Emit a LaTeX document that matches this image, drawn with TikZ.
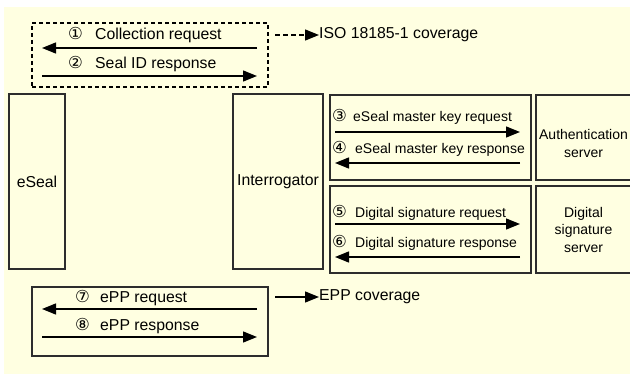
\documentclass[tikz,border=0pt]{standalone}
\usepackage{fontspec}
\setmainfont{Liberation Sans}
\newfontfamily\circfont{DejaVu Sans}
\usetikzlibrary{arrows.meta,positioning}
\definecolor{paper}{RGB}{255,255,225}
\definecolor{edge}{RGB}{45,45,45}
\newcommand{\bigtxt}{\fontsize{15.8}{18}\selectfont}
\newcommand{\smalltxt}{\fontsize{14}{17.5}\selectfont}
\newcommand{\cnum}[2]{\makebox[#2][l]{\circfont\fontsize{16.5}{16}\selectfont #1}}
\tikzset{
  box/.style={
    rectangle,draw=edge,line width=1.3pt,align=center,inner sep=0pt,
    font=\bigtxt
  },
  serverbox/.style={box,font=\smalltxt},
  covbox/.style={
    rectangle,draw=black,line width=1.5pt,dash pattern=on 4pt off 3pt
  },
  msg/.style={-{Triangle[length=14pt,width=11pt]},line width=1.3pt,draw=black},
  covarrow/.style={msg,dash pattern=on 5pt off 3pt},
  msglabel/.style={anchor=base west,inner sep=0pt,font=\bigtxt},
  rlabel/.style={msglabel,font=\smalltxt},
  covtext/.style={anchor=west,inner sep=0pt,font=\bigtxt}
}
\begin{document}
\begin{tikzpicture}[x=1pt,y=-1pt]
  \useasboundingbox (0,0) rectangle (630,374);
  \fill[paper] (4,7) rectangle (632,376);

  % entities
  \node[box,minimum width=56pt,minimum height=175pt] (eseal)
    at (37,181.5) {eSeal};
  \node[box,minimum width=90pt,minimum height=175pt] (interrogator)
    at (278,181.5) {Interrogator};
  \node[box,minimum width=201pt,minimum height=85pt] (authlink)
    at (430.5,137.5) {};
  \node[box,minimum width=201pt,minimum height=87pt] (siglink)
    at (430.5,229.5) {};
  \node[serverbox,minimum width=95pt,minimum height=85pt] (authsrv)
    at (583.5,137.5) {};
  \node[font=\smalltxt,align=center,inner sep=0pt] (authname)
    at ([yshift=-6pt]authsrv.center) {Authentication\\server};
  \node[serverbox,minimum width=95pt,minimum height=87pt] (sigsrv)
    at (583.5,229.5) {Digital\\signature\\server};

  % coverage boxes
  \node[covbox,minimum width=236pt,minimum height=64pt] (isobox)
    at (150,55) {};
  \node[box,minimum width=236pt,minimum height=69pt] (eppbox)
    at (150,321.5) {};

  % ISO 18185-1 messages
  \coordinate (m1from) at (257,48);
  \coordinate (m1to) at (42,48);
  \coordinate (m2from) at (42,76);
  \coordinate (m2to) at (257,76);
  \draw[msg] (m1from) -- (m1to);
  \draw[msg] (m2from) -- (m2to);
  \node[msglabel] (m1lbl) at (68,40) {\cnum{①}{27pt}Collection request};
  \node[msglabel] (m2lbl) at (68,69) {\cnum{②}{27pt}Seal ID response};

  % back-end messages
  \coordinate (m3from) at (335,132);
  \coordinate (m3to) at (520,132);
  \coordinate (m4from) at (520,163);
  \coordinate (m4to) at (335,163);
  \coordinate (m5from) at (335,224);
  \coordinate (m5to) at (520,224);
  \coordinate (m6from) at (520,257);
  \coordinate (m6to) at (335,257);
  \draw[msg] (m3from) -- (m3to);
  \draw[msg] (m4from) -- (m4to);
  \draw[msg] (m5from) -- (m5to);
  \draw[msg] (m6from) -- (m6to);
  \node[rlabel] (m3lbl) at (332,122) {\cnum{③}{21pt}eSeal master key request};
  \node[rlabel] (m4lbl) at (332,154) {\cnum{④}{23pt}eSeal master key response};
  \node[rlabel] (m5lbl) at (332,218) {\cnum{⑤}{23pt}Digital signature request};
  \node[rlabel] (m6lbl) at (332,248) {\cnum{⑥}{23pt}Digital signature response};

  % EPP messages
  \coordinate (m7from) at (257,309);
  \coordinate (m7to) at (42,309);
  \coordinate (m8from) at (42,337);
  \coordinate (m8to) at (257,337);
  \draw[msg] (m7from) -- (m7to);
  \draw[msg] (m8from) -- (m8to);
  \node[msglabel] (m7lbl) at (75,303) {\cnum{⑦}{25pt}ePP request};
  \node[msglabel] (m8lbl) at (75,331) {\cnum{⑧}{25pt}ePP response};

  % coverage notes
  \node[covtext] (isotxt) at (319,35) {ISO 18185-1 coverage};
  \node[covtext] (epptxt) at (319,297) {EPP coverage};
  \coordinate (isofrom) at (275,35);
  \coordinate (eppfrom) at (275,297);
  \draw[covarrow] (isofrom) -- (isotxt.west);
  \draw[msg] (eppfrom) -- (epptxt.west);
\end{tikzpicture}
\end{document}
